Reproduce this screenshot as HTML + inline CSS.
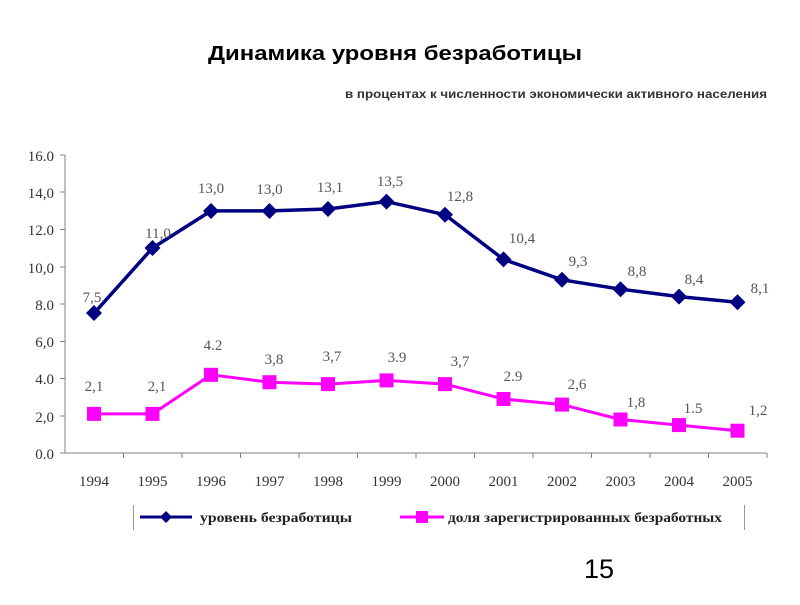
<!DOCTYPE html>
<html><head><meta charset="utf-8"><style>
body{margin:0;background:#fff;width:800px;height:600px;overflow:hidden}
text{font-family:"Liberation Serif",serif}
</style></head><body>
<svg width="800" height="600" xmlns="http://www.w3.org/2000/svg">
<text x="208" y="60" font-size="20" font-weight="bold" fill="#000" textLength="374" lengthAdjust="spacingAndGlyphs" style="font-family:'Liberation Sans',sans-serif">Динамика уровня безработицы</text>
<text x="345" y="98" font-size="12" font-weight="bold" fill="#333" textLength="422" lengthAdjust="spacingAndGlyphs" style="font-family:'Liberation Sans',sans-serif">в процентах к численности экономически активного населения</text>
<g stroke="#808080" stroke-width="1">
<line x1="65" y1="155" x2="65" y2="453"/>
<line x1="65" y1="453" x2="767" y2="453"/>
<line x1="60" y1="155" x2="65" y2="155"/><line x1="60" y1="192" x2="65" y2="192"/><line x1="60" y1="229.5" x2="65" y2="229.5"/><line x1="60" y1="267" x2="65" y2="267"/><line x1="60" y1="304" x2="65" y2="304"/><line x1="60" y1="341.5" x2="65" y2="341.5"/><line x1="60" y1="378.5" x2="65" y2="378.5"/><line x1="60" y1="416" x2="65" y2="416"/><line x1="60" y1="453" x2="65" y2="453"/>
<line x1="123.5" y1="453" x2="123.5" y2="458"/><line x1="182" y1="453" x2="182" y2="458"/><line x1="240.5" y1="453" x2="240.5" y2="458"/><line x1="299" y1="453" x2="299" y2="458"/><line x1="357.5" y1="453" x2="357.5" y2="458"/><line x1="416" y1="453" x2="416" y2="458"/><line x1="474.5" y1="453" x2="474.5" y2="458"/><line x1="533" y1="453" x2="533" y2="458"/><line x1="591.5" y1="453" x2="591.5" y2="458"/><line x1="650" y1="453" x2="650" y2="458"/><line x1="708.5" y1="453" x2="708.5" y2="458"/><line x1="767" y1="453" x2="767" y2="458"/>
</g>
<g font-size="15" fill="#333" text-anchor="end">
<text x="54" y="161">16.0</text><text x="54" y="198">14,0</text><text x="54" y="235">12.0</text><text x="54" y="273">10,0</text><text x="54" y="310">8.0</text><text x="54" y="347">6,0</text><text x="54" y="384">4.0</text><text x="54" y="422">2,0</text><text x="54" y="459">0.0</text>
</g>
<g font-size="15" fill="#333" text-anchor="middle">
<text x="94" y="486">1994</text><text x="152.5" y="486">1995</text><text x="211" y="486">1996</text><text x="269.5" y="486">1997</text><text x="328" y="486">1998</text><text x="386.5" y="486">1999</text><text x="445" y="486">2000</text><text x="503.5" y="486">2001</text><text x="562" y="486">2002</text><text x="620.5" y="486">2003</text><text x="679" y="486">2004</text><text x="737.5" y="486">2005</text>
</g>
<polyline fill="none" stroke="#000080" stroke-width="3.5" points="94,313.3 152.5,248 211,210.9 269.5,210.9 328,209 386.5,201.6 445,214.7 503.5,259.4 562,279.8 620.5,289.2 679,296.6 737.5,302.2"/>
<g fill="#000080">
<path d="M94 305l8 8-8 8-8-8z"/><path d="M152.5 240l8 8-8 8-8-8z"/><path d="M211 203l8 8-8 8-8-8z"/><path d="M269.5 203l8 8-8 8-8-8z"/><path d="M328 201l8 8-8 8-8-8z"/><path d="M386.5 193.6l8 8-8 8-8-8z"/><path d="M445 206.7l8 8-8 8-8-8z"/><path d="M503.5 251.4l8 8-8 8-8-8z"/><path d="M562 271.8l8 8-8 8-8-8z"/><path d="M620.5 281.2l8 8-8 8-8-8z"/><path d="M679 288.6l8 8-8 8-8-8z"/><path d="M737.5 294.2l8 8-8 8-8-8z"/>
</g>
<polyline fill="none" stroke="#ff00ff" stroke-width="3" points="94,413.9 152.5,413.9 211,374.8 269.5,382.2 328,384.1 386.5,380.4 445,384.1 503.5,399 562,404.6 620.5,419.5 679,425.1 737.5,430.7"/>
<g fill="#ff00ff">
<rect x="87" y="406.9" width="14" height="14"/><rect x="145.5" y="406.9" width="14" height="14"/><rect x="204" y="367.8" width="14" height="14"/><rect x="262.5" y="375.2" width="14" height="14"/><rect x="321" y="377.1" width="14" height="14"/><rect x="379.5" y="373.4" width="14" height="14"/><rect x="438" y="377.1" width="14" height="14"/><rect x="496.5" y="392" width="14" height="14"/><rect x="555" y="397.6" width="14" height="14"/><rect x="613.5" y="412.5" width="14" height="14"/><rect x="672" y="418.1" width="14" height="14"/><rect x="730.5" y="423.7" width="14" height="14"/>
</g>
<g font-size="15" fill="#555" text-anchor="middle">
<text x="92" y="302">7,5</text><text x="158" y="238">11,0</text><text x="211" y="193">13,0</text><text x="269.5" y="194">13,0</text><text x="330" y="192">13,1</text><text x="390" y="186">13,5</text><text x="460" y="201">12,8</text><text x="522" y="243">10,4</text><text x="578" y="266">9,3</text><text x="637" y="276">8,8</text><text x="694" y="284">8,4</text><text x="760" y="293">8,1</text>
<text x="94" y="391">2,1</text><text x="157" y="391">2,1</text><text x="213" y="350">4.2</text><text x="274" y="364">3,8</text><text x="332" y="361">3,7</text><text x="397" y="362">3.9</text><text x="460" y="366">3,7</text><text x="513" y="381">2.9</text><text x="577" y="389">2,6</text><text x="636" y="407">1,8</text><text x="693" y="413">1.5</text><text x="758" y="415">1,2</text>
</g>
<line x1="133.5" y1="505" x2="133.5" y2="530" stroke="#999"/>
<line x1="744.5" y1="505" x2="744.5" y2="530" stroke="#999"/>
<line x1="140" y1="517" x2="192" y2="517" stroke="#000080" stroke-width="3"/>
<path d="M166 511l6 6-6 6-6-6z" fill="#000080"/>
<text x="200" y="522" font-size="14" font-weight="bold" fill="#222" textLength="152" lengthAdjust="spacingAndGlyphs">уровень безработицы</text>
<line x1="400" y1="517" x2="444" y2="517" stroke="#ff00ff" stroke-width="3"/>
<rect x="416" y="511" width="12" height="12" fill="#ff00ff"/>
<text x="448" y="522" font-size="14" font-weight="bold" fill="#222" textLength="274" lengthAdjust="spacingAndGlyphs">доля зарегистрированных безработных</text>
<text x="584" y="578" font-size="27" fill="#000" style="font-family:'Liberation Sans',sans-serif">15</text>
</svg>
</body></html>
